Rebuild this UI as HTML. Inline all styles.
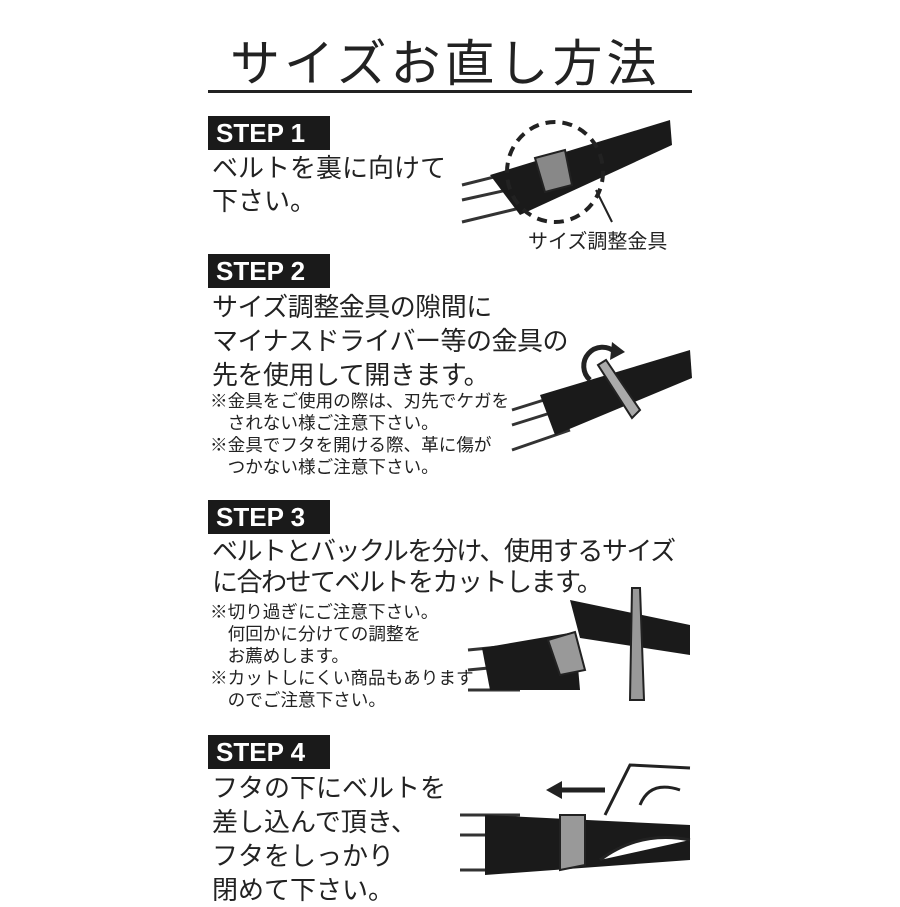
<!DOCTYPE html>
<html><head><meta charset="utf-8"><style>
body{margin:0;width:900px;height:900px;background:#fff;position:relative;overflow:hidden;font-family:"Liberation Sans","Noto Sans CJK JP",sans-serif;color:#222}
.a{position:absolute;white-space:nowrap}
.step{position:absolute;left:208px;width:122px;height:34px;background:#1a1a1a;color:#fff;font:bold 26px "Liberation Sans",sans-serif;line-height:34px;padding-left:8px;box-sizing:border-box}
.t{font-size:26px;line-height:33px}
.s{font-size:17.6px;line-height:22px}
</style></head><body>
<div class="a" style="left:230px;top:24px;font-size:50px;letter-spacing:4px;color:#222">サイズお直し方法</div>
<div class="a" style="left:208px;top:90px;width:484px;height:3px;background:#222"></div>

<div class="step" style="top:116px">STEP 1</div>
<div class="a t" style="left:212px;top:152px">ベルトを裏に向けて<br>下さい。</div>
<div class="a" style="left:528px;top:225px;font-size:20px">サイズ調整金具</div>

<div class="step" style="top:254px">STEP 2</div>
<div class="a t" style="left:212px;top:290px;line-height:34px;letter-spacing:-0.5px">サイズ調整金具の隙間に<br>マイナスドライバー等の金具の<br>先を使用して開きます。</div>
<div class="a s" style="left:210px;top:390px">※金具をご使用の際は、刃先でケガを<br>　されない様ご注意下さい。<br>※金具でフタを開ける際、革に傷が<br>　つかない様ご注意下さい。</div>

<div class="step" style="top:500px">STEP 3</div>
<div class="a t" style="left:212px;top:536px;letter-spacing:-1.5px;line-height:31px">ベルトとバックルを分け、使用するサイズ<br>に合わせてベルトをカットします。</div>
<div class="a s" style="left:210px;top:601px">※切り過ぎにご注意下さい。<br>　何回かに分けての調整を<br>　お薦めします。<br>※カットしにくい商品もあります<br>　のでご注意下さい。</div>

<div class="step" style="top:735px">STEP 4</div>
<div class="a t" style="left:212px;top:771px;line-height:34px">フタの下にベルトを<br>差し込んで頂き、<br>フタをしっかり<br>閉めて下さい。</div>

<svg class="a" style="left:0;top:0" width="900" height="900">
<g stroke="#333" stroke-width="3" fill="none">
<path d="M462 185 L530 168 M462 200 L530 185 M462 222 L520 208"/>
</g>
<polygon points="490,175 670,120 672,145 520,215" fill="#1a1a1a"/>
<polygon points="535,158 565,150 572,185 545,192" fill="#888" stroke="#222" stroke-width="2"/>
<ellipse cx="555" cy="172" rx="48" ry="50" fill="none" stroke="#222" stroke-width="4" stroke-dasharray="10 7"/>
<line x1="596" y1="190" x2="612" y2="222" stroke="#222" stroke-width="2"/>
<g stroke="#333" stroke-width="3" fill="none"><path d="M512 410 L560 395 M512 425 L560 410 M512 450 L570 430"/></g>
<polygon points="540,395 690,350 692,378 555,435" fill="#1a1a1a"/>
<polygon points="598,365 606,360 640,410 632,418" fill="#aaa" stroke="#222" stroke-width="2"/>
<path d="M590 380 A18 18 0 0 1 615 352" fill="none" stroke="#222" stroke-width="5"/>
<polygon points="612,342 625,352 610,360" fill="#222"/>
<g stroke="#333" stroke-width="3" fill="none"><path d="M468 650 L520 645 M468 670 L520 665 M468 690 L520 690"/></g>
<polygon points="482,648 575,632 580,690 490,690" fill="#1a1a1a"/>
<polygon points="548,640 575,632 585,670 560,675" fill="#999" stroke="#222" stroke-width="2"/>
<polygon points="570,600 690,625 690,655 580,638" fill="#1a1a1a"/>
<polygon points="632,588 640,588 644,700 630,700" fill="#999" stroke="#222" stroke-width="2"/>
<g stroke="#333" stroke-width="3" fill="none"><path d="M460 815 L520 815 M460 835 L520 835 M460 870 L520 870"/></g>
<polygon points="485,815 690,825 690,860 485,875" fill="#1a1a1a"/>
<polygon points="560,815 585,815 585,865 560,870" fill="#999" stroke="#222" stroke-width="2"/>
<path d="M605 815 L630 765 L690 768 M640 805 Q650 780 680 790 M600 860 Q640 830 690 840" fill="#fff" stroke="#222" stroke-width="3"/>
<line x1="560" y1="790" x2="605" y2="790" stroke="#222" stroke-width="5"/>
<polygon points="546,790 562,781 562,799" fill="#222"/>
</svg>
</body></html>
